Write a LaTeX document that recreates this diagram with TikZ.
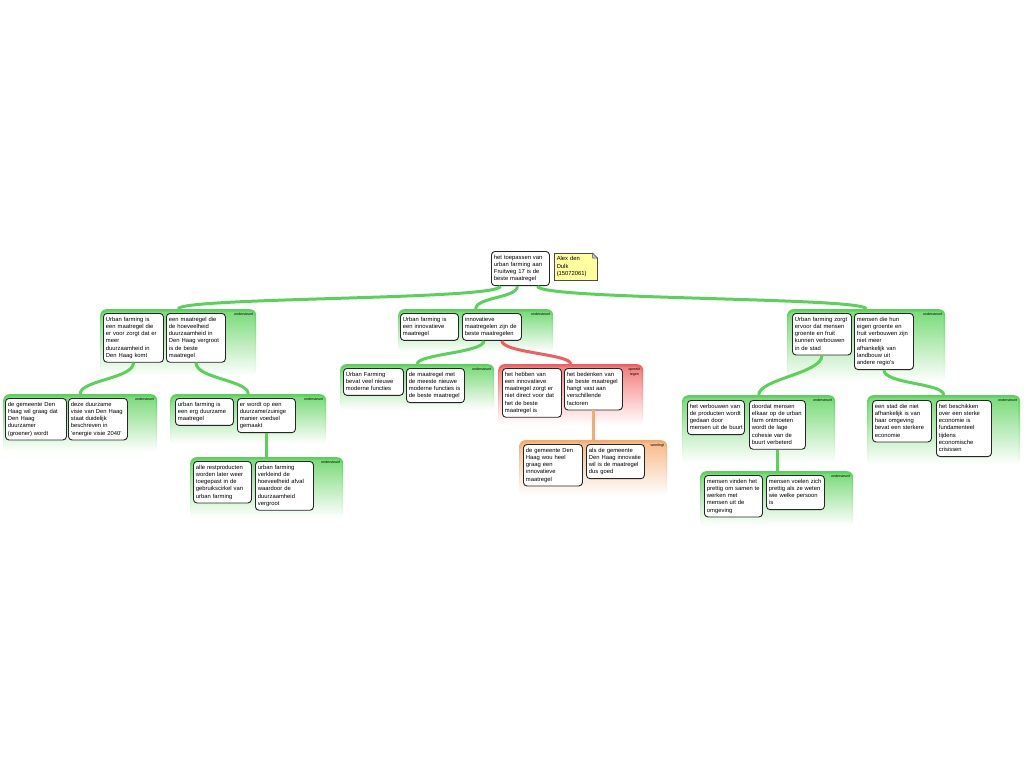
\documentclass[tikz,border=0pt]{standalone}
\usepackage{fontspec}
\setmainfont{Liberation Sans}
\usetikzlibrary{calc}
\definecolor{gG}{RGB}{90,210,90}
\definecolor{gR}{RGB}{240,95,95}
\definecolor{gO}{RGB}{245,170,110}
\definecolor{noteY}{RGB}{255,255,160}
\newcommand{\bxt}[1]{\begin{tabular}{@{}l@{}}#1\end{tabular}}
\newcommand{\mkcont}[7]{%
  \node[shade, top color=#2, bottom color=white, rounded corners=6pt,
        minimum width=#5-#3, minimum height=#6-#4, anchor=north west, inner sep=0pt] (#1) at (#3,#4) {};
  \node[shade, top color=#2!80!white, middle color=#2!35!white, bottom color=white, rounded corners=5pt,
        minimum width=#5-#3-3, minimum height=#6-#4-3, anchor=north, inner sep=0pt] at ([yshift=-2.5pt]#1.north) {};
  \node[lbl, anchor=north east] at ([xshift=-3pt,yshift=-4pt]#1.north east) {#7};
}
\tikzset{
  argbox/.style={draw=black!85, line width=0.9pt, rounded corners=3.5pt, fill=white,
    anchor=north west, inner xsep=2.5pt, inner ysep=2.5pt,
    font=\fontsize{5.85}{7.3}\selectfont, align=left, text width=#1},
  lbl/.style={font=\fontsize{3.6}{4.2}\selectfont, align=center, inner sep=0pt},
  gline/.style={draw=gG, line width=3pt},
  rline/.style={draw=gR, line width=3pt},
  oline/.style={draw=gO, line width=3pt},
}
\begin{document}
\begin{tikzpicture}[x=1pt,y=-1pt]
\fill[white] (0,0) rectangle (1024,768);
\useasboundingbox (0,0) rectangle (1024,768);

% containers
\mkcont{cLG}{gG}{100}{309}{256}{376}{ondersteunt}
\mkcont{cMG}{gG}{398}{309}{553}{352}{ondersteunt}
\mkcont{cRG}{gG}{787}{309}{945}{382}{ondersteunt}
\mkcont{cA}{gG}{3}{394}{157}{452}{ondersteunt}
\mkcont{cB}{gG}{170}{394}{326}{444}{ondersteunt}
\mkcont{cC}{gG}{190}{457}{343}{518}{ondersteunt}
\mkcont{cGM}{gG}{340}{364}{494}{410}{ondersteunt}
\mkcont{cR}{gR}{498}{364}{643}{425}{spreekt\\tegen}
\mkcont{cO}{gO}{519}{440}{667}{496}{weerlegt}
\mkcont{cD}{gG}{682}{395}{835}{463}{ondersteunt}
\mkcont{cE}{gG}{867}{395}{1020}{465}{ondersteunt}
\mkcont{cF}{gG}{700}{471}{853}{526}{ondersteunt}

% root and note
\node[argbox=53] (root) at (491,251) {\bxt{het toepassen van\\urban farming aan\\Fruitweg 17 is de\\beste maatregel}};
\node[draw=black!70, line width=0.5pt, fill=noteY, anchor=north west, minimum width=43, minimum height=26,
      text width=38, inner xsep=2.5pt, inner ysep=2.5pt, align=left, font=\fontsize{5.85}{7.3}\selectfont] (note) at (554,253)
      {\bxt{Alex den\\Dulk\\(15072061)}};
\fill[white] ([xshift=-5pt,yshift=0.3pt]note.north east) -- ([xshift=0.3pt,yshift=0.3pt]note.north east) -- ([xshift=0.3pt,yshift=-5pt]note.north east) -- cycle;
\filldraw[fill=black!25, draw=black!70, line width=0.5pt] ([xshift=-5pt]note.north east) -- ([yshift=-5pt]note.north east) -- ([xshift=-5pt,yshift=-5pt]note.north east) -- cycle;

% level 1
\node[argbox=55] (lg1) at (103,313) {\bxt{Urban farming is\\een maatregel die\\er voor zorgt dat er\\meer\\duurzaamheid in\\Den Haag komt}};
\node[argbox=54] (lg2) at (166,313) {\bxt{een maatregel die\\de hoeveelheid\\duurzaamheid in\\Den Haag vergroot\\is de beste\\maatregel}};
\node[argbox=53] (m1) at (400,313) {\bxt{Urban farming is\\een innovatieve\\maatregel}};
\node[argbox=54] (m2) at (462,313) {\bxt{innovatieve\\maatregelen zijn de\\beste maatregelen}};
\node[argbox=54] (q1) at (792,313) {\bxt{Urban farming zorgt\\ervoor dat mensen\\groente en fruit\\kunnen verbouwen\\in de stad}};
\node[argbox=54] (q2) at (854,313) {\bxt{mensen die hun\\eigen groente en\\fruit verbouwen zijn\\niet meer\\afhankelijk van\\landbouw uit\\andere regio's}};

% level 2
\node[argbox=56] (a1) at (5,398) {\bxt{de gemeente Den\\Haag wil graag dat\\Den Haag\\duurzamer\\(groener) wordt}};
\node[argbox=54] (a2) at (68,398) {\bxt{deze duurzame\\visie van Den Haag\\staat duidelijk\\beschreven in\\'energie visie 2040'}};
\node[argbox=53] (b1) at (175,398) {\bxt{urban farming is\\een erg duurzame\\maatregel}};
\node[argbox=53] (b2) at (237,398) {\bxt{er wordt op een\\duurzame/zuinige\\manier voedsel\\gemaakt}};
\node[argbox=55] (g1) at (343,368) {\bxt{Urban Farming\\bevat veel nieuwe\\moderne functies}};
\node[argbox=53] (g2) at (406,368) {\bxt{de maatregel met\\de meeste nieuwe\\moderne functies is\\de beste maatregel}};
\node[argbox=54] (r1) at (502,368) {\bxt{het hebben van\\een innovatieve\\maatregel zorgt er\\niet direct voor dat\\het de beste\\maatregel is}};
\node[argbox=53] (r2) at (564,368) {\bxt{het bedenken van\\de beste maatregel\\hangt vast aan\\verschillende\\factoren}};
\node[argbox=52] (d1) at (687,400) {\bxt{het verbouwen van\\de producten wordt\\gedaan door\\mensen uit de buurt}};
\node[argbox=51] (d2) at (749,400) {\bxt{doordat mensen\\elkaar op de urban\\farm ontmoeten\\wordt de lage\\cohesie van de\\buurt verbeterd}};
\node[argbox=54] (e1) at (872,400) {\bxt{een stad die niet\\afhankelijk is van\\haar omgeving\\bevat een sterkere\\economie}};
\node[argbox=50] (e2) at (936,400) {\bxt{het beschikken\\over een sterke\\economie is\\fundamenteel\\tijdens\\economische\\crisissen}};

% level 3
\node[argbox=53] (c1) at (193,461) {\bxt{alle restproducten\\worden later weer\\toegepast in de\\gebruikscirkel van\\urban farming}};
\node[argbox=53] (c2) at (255,461) {\bxt{urban farming\\verkleind de\\hoeveelheid afval\\waardoor de\\duurzaamheid\\vergroot}};
\node[argbox=54] (o1) at (523,444) {\bxt{de gemeente Den\\Haag wou heel\\graag een\\innovatieve\\maatregel}};
\node[argbox=53] (o2) at (586,444) {\bxt{als de gemeente\\Den Haag innovatie\\wil is de maatregel\\dus goed}};
\node[argbox=53] (f1) at (704,475) {\bxt{mensen vinden het\\prettig om samen te\\werken met\\mensen uit de\\omgeving}};
\node[argbox=53] (f2) at (766,475) {\bxt{mensen voelen zich\\prettig als ze weten\\wie welke persoon\\is}};

% connectors
\draw[gline] ([xshift=-20pt]root.south) .. controls +(0,14) and +(0,-12) .. (cLG.north);
\draw[gline] ([xshift=-3pt]root.south) .. controls +(0,12) and +(0,-12) .. (cMG.north);
\draw[gline] ([xshift=17pt]root.south) .. controls +(0,14) and +(0,-12) .. (cRG.north);
\draw[gline] (lg1.south) .. controls +(0,16) and +(0,-14) .. (cA.north);
\draw[gline] (lg2.south) .. controls +(0,16) and +(0,-14) .. (cB.north);
\draw[gline] (b2.south) -- (b2.south |- cC.north);
\draw[gline] ([xshift=-8pt]m2.south) .. controls +(0,12) and +(0,-10) .. (cGM.north);
\draw[rline] ([xshift=10pt]m2.south) .. controls +(0,12) and +(0,-10) .. (cR.north);
\draw[oline] (r2.south) -- (r2.south |- cO.north);
\draw[gline] (q1.south) .. controls +(0,18) and +(0,-16) .. (cD.north);
\draw[gline] (q2.south) .. controls +(0,14) and +(0,-12) .. (cE.north);
\draw[gline] (d2.south) -- (d2.south |- cF.north);
\end{tikzpicture}
\end{document}
